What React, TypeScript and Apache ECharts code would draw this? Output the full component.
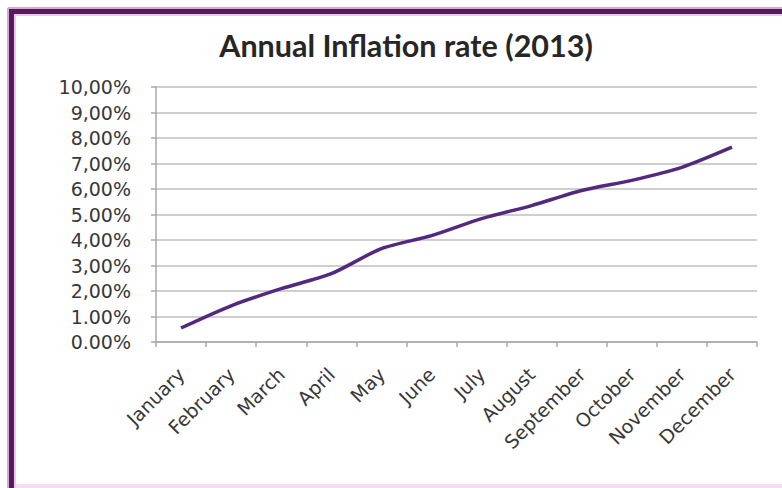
import React, { useEffect, useRef } from "react";
import * as echarts from "echarts";

const months = ["January", "February", "March", "April", "May", "June", "July", "August", "September", "October", "November", "December"];
const inflation = [0.55, 1.42, 2.09, 2.68, 3.66, 4.17, 4.84, 5.35, 5.94, 6.34, 6.85, 7.64];
const yTickLabels = ["0.00%", "1.00%", "2,00%", "3,00%", "4,00%", "5.00%", "6,00%", "7,00%", "8,00%", "9,00%", "10,00%"];
const titleText = "Annual Inflation rate (2013)";

export default function App() {
  const ref = useRef<HTMLDivElement>(null);
  useEffect(() => {
    if (!ref.current) return;
    const chart = echarts.init(ref.current, null, { renderer: "svg" });
    const titleFont = "Lato, 'Noto Sans', sans-serif";
    const labelFont = "'DejaVu Sans', Verdana, sans-serif";
    chart.setOption({
      animation: false,
      backgroundColor: "#ffffff",
      grid: { left: 156, right: 25, top: 87, bottom: 146, containLabel: false },
      xAxis: {
        type: "category",
        data: months,
        boundaryGap: true,
        axisLine: { show: true, lineStyle: { color: "#a8a8a8", width: 1.5 } },
        axisTick: { show: true, length: 5, lineStyle: { color: "#a8a8a8", width: 1.5 } },
        axisLabel: { rotate: 45, interval: 0, margin: 29, fontSize: 19, color: "#383838", fontFamily: labelFont },
        splitLine: { show: false },
      },
      yAxis: {
        type: "value",
        min: 0,
        max: 10,
        interval: 1,
        axisLine: { show: true, lineStyle: { color: "#a8a8a8", width: 1.5 } },
        axisTick: { show: true, length: 5, lineStyle: { color: "#a8a8a8", width: 1.5 } },
        axisLabel: {
          margin: 25,
          fontSize: 19,
          color: "#383838",
          fontFamily: labelFont,
          formatter: (v: number) => yTickLabels[Math.round(v)] ?? "",
        },
        splitLine: { show: true, lineStyle: { color: "#cfcfcf", width: 2 } },
      },
      series: [
        {
          type: "line",
          data: inflation,
          smooth: 0.25,
          symbol: "none",
          lineStyle: { color: "#52297f", width: 3.5 },
        },
      ],
      graphic: [
        { type: "text", x: 406, y: 45, style: { text: titleText, fontSize: 30.5, fontWeight: "bold", fontFamily: titleFont, fill: "#262626", align: "center", verticalAlign: "middle" } },
        { type: "line", shape: { x1: 8, y1: 8, x2: 782, y2: 8 }, style: { stroke: "#d9a8d6", lineWidth: 2 } },
        { type: "line", shape: { x1: 8, y1: 8, x2: 8, y2: 488 }, style: { stroke: "#d9a8d6", lineWidth: 2 } },
        { type: "line", shape: { x1: 9, y1: 11.5, x2: 782, y2: 11.5 }, style: { stroke: "#561b5a", lineWidth: 5 } },
        { type: "line", shape: { x1: 11.5, y1: 9, x2: 11.5, y2: 488 }, style: { stroke: "#561b5a", lineWidth: 5 } },
        { type: "line", shape: { x1: 14, y1: 15, x2: 782, y2: 15 }, style: { stroke: "#ecc8ea", lineWidth: 2 } },
        { type: "line", shape: { x1: 15, y1: 14, x2: 15, y2: 488 }, style: { stroke: "#ecc8ea", lineWidth: 2 } },
        { type: "line", shape: { x1: 16, y1: 486, x2: 782, y2: 486 }, style: { stroke: "#f5dcf3", lineWidth: 4 } },
      ],
    });
    return () => chart.dispose();
  }, []);
  return <div ref={ref} style={{ position: "fixed", left: 0, top: 0, width: 782, height: 488 }} />;
}
